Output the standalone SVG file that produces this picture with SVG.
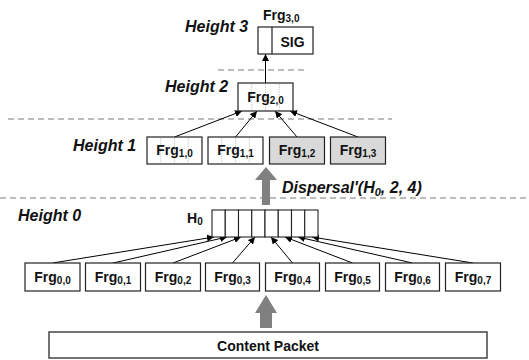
<svg xmlns="http://www.w3.org/2000/svg" width="529" height="360" viewBox="0 0 529 360">
  <defs>
    <marker id="ah" viewBox="0 0 10 10" refX="10" refY="5" markerWidth="7" markerHeight="7" markerUnits="userSpaceOnUse" orient="auto">
      <path d="M0,0 L10,5 L0,10 z" fill="#000"/>
    </marker>
    <style>
      .box { fill: #fff; stroke: #222; stroke-width: 1.2; }
      .shade { fill: #d9d9d9; stroke: #222; stroke-width: 1.2; }
      .cell { fill: #fff; stroke: #222; stroke-width: 1.1; }
      .div { stroke: #bbb; stroke-width: 0.8; stroke-dasharray: 1.5 1; }
      .sep { stroke: #a6a6a6; stroke-width: 1.5; stroke-dasharray: 6 4; fill: none; }
      .edge { stroke: #000; stroke-width: 1; fill: none; marker-end: url(#ah); }
      .lbl { font-family: "Liberation Sans", Arial, sans-serif; font-weight: bold; font-size: 14px; fill: #111; }
      .sub { font-size: 10px; }
      .lvl { font-family: "Liberation Sans", Arial, sans-serif; font-weight: bold; font-style: italic; font-size: 16px; fill: #111; }
      .big { fill: #808080; }
    </style>
  </defs>

  <!-- level separators -->
  <g id="separators">
    <line class="sep" x1="218" y1="70" x2="306" y2="70"/>
    <line class="sep" x1="8" y1="119" x2="392" y2="119"/>
    <line class="sep" x1="0" y1="198" x2="529" y2="198"/>
  </g>

  <!-- level labels -->
  <g id="levels">
    <text class="lvl" x="185" y="32">Height 3</text>
    <text class="lvl" x="165" y="92">Height 2</text>
    <text class="lvl" x="73" y="151">Height 1</text>
    <text class="lvl" x="18" y="221">Height 0</text>
  </g>

  <!-- connectors -->
  <g id="connectors">
    <line class="edge" x1="265.5" y1="83" x2="265.5" y2="54"/>
    <line class="edge" x1="174.5" y1="137" x2="242" y2="111"/>
    <line class="edge" x1="235.5" y1="137" x2="257" y2="111"/>
    <line class="edge" x1="297" y1="137" x2="275" y2="111"/>
    <line class="edge" x1="358" y1="137" x2="290" y2="111"/>

    <line class="edge" x1="52.5" y1="263" x2="214" y2="237"/>
    <line class="edge" x1="113" y1="263" x2="227" y2="237"/>
    <line class="edge" x1="173" y1="263" x2="241" y2="237"/>
    <line class="edge" x1="232.5" y1="263" x2="255" y2="237"/>
    <line class="edge" x1="292.5" y1="263" x2="271" y2="237"/>
    <line class="edge" x1="352.5" y1="263" x2="285" y2="237"/>
    <line class="edge" x1="412.5" y1="263" x2="298" y2="237"/>
    <line class="edge" x1="473" y1="263" x2="312" y2="237"/>

    <!-- thick block arrows -->
    <path class="big" d="M262,205 L270,205 L270,180 L277,180 L266,167 L255,180 L262,180 z"/>
    <path class="big" d="M260,328 L272,328 L272,313 L277,313 L266,295 L255,313 L260,313 z"/>
  </g>

  <!-- Height 3 -->
  <g id="frg30">
    <rect class="box" x="258" y="27" width="55" height="27"/>
    <line x1="272" y1="27" x2="272" y2="54" stroke="#222" stroke-width="1.2"/>
    <text class="lbl" x="292.5" y="47" text-anchor="middle" font-size="16">SIG</text>
    <text class="lbl" x="263" y="20">Frg<tspan class="sub" dy="2">3,0</tspan></text>
  </g>

  <!-- Height 2 -->
  <g id="frg20">
    <rect class="box" x="238" y="83" width="55" height="28"/>
    <line class="div" x1="251.75" y1="84" x2="251.75" y2="110"/>
    <line class="div" x1="265.5" y1="84" x2="265.5" y2="110"/>
    <line class="div" x1="279.25" y1="84" x2="279.25" y2="110"/>
    <text class="lbl" x="265.5" y="102" text-anchor="middle">Frg<tspan class="sub" dy="2">2,0</tspan></text>
  </g>

  <!-- Height 1 -->
  <g id="frg10">
    <rect class="box" x="147" y="137" width="55" height="27"/>
    <line class="div" x1="160.75" y1="138" x2="160.75" y2="163"/>
    <line class="div" x1="174.5" y1="138" x2="174.5" y2="163"/>
    <line class="div" x1="188.25" y1="138" x2="188.25" y2="163"/>
    <text class="lbl" x="174.5" y="155" text-anchor="middle">Frg<tspan class="sub" dy="2">1,0</tspan></text>
  </g>
  <g id="frg11">
    <rect class="box" x="208" y="137" width="55" height="27"/>
    <line class="div" x1="221.75" y1="138" x2="221.75" y2="163"/>
    <line class="div" x1="235.5" y1="138" x2="235.5" y2="163"/>
    <line class="div" x1="249.25" y1="138" x2="249.25" y2="163"/>
    <text class="lbl" x="235.5" y="155" text-anchor="middle">Frg<tspan class="sub" dy="2">1,1</tspan></text>
  </g>
  <g id="frg12">
    <rect class="shade" x="269.5" y="137" width="55" height="27"/>
    <text class="lbl" x="297" y="155" text-anchor="middle">Frg<tspan class="sub" dy="2">1,2</tspan></text>
  </g>
  <g id="frg13">
    <rect class="shade" x="330.5" y="137" width="55" height="27"/>
    <text class="lbl" x="358" y="155" text-anchor="middle">Frg<tspan class="sub" dy="2">1,3</tspan></text>
  </g>

  <text class="lvl" x="282" y="193">Dispersal'(H<tspan font-size="11" dy="3">0</tspan><tspan dy="-3">, 2, 4)</tspan></text>

  <!-- Height 0 hash array -->
  <g id="h0">
    <text class="lbl" x="187" y="223">H<tspan class="sub" dy="2">0</tspan></text>
    <rect class="cell" x="212" y="210" width="13.25" height="27"/>
    <rect class="cell" x="225.25" y="210" width="13.25" height="27"/>
    <rect class="cell" x="238.5" y="210" width="13.25" height="27"/>
    <rect class="cell" x="251.75" y="210" width="13.25" height="27"/>
    <rect class="cell" x="265" y="210" width="13.25" height="27"/>
    <rect class="cell" x="278.25" y="210" width="13.25" height="27"/>
    <rect class="cell" x="291.5" y="210" width="13.25" height="27"/>
    <rect class="cell" x="304.75" y="210" width="13.25" height="27"/>
  </g>

  <!-- Height 0 fragments -->
  <g id="frg00"><rect class="box" x="25" y="263" width="55" height="28"/><text class="lbl" x="52.5" y="282" text-anchor="middle">Frg<tspan class="sub" dy="2">0,0</tspan></text></g>
  <g id="frg01"><rect class="box" x="85.5" y="263" width="55" height="28"/><text class="lbl" x="113" y="282" text-anchor="middle">Frg<tspan class="sub" dy="2">0,1</tspan></text></g>
  <g id="frg02"><rect class="box" x="145.5" y="263" width="55" height="28"/><text class="lbl" x="173" y="282" text-anchor="middle">Frg<tspan class="sub" dy="2">0,2</tspan></text></g>
  <g id="frg03"><rect class="box" x="205.5" y="263" width="54" height="28"/><text class="lbl" x="232.5" y="282" text-anchor="middle">Frg<tspan class="sub" dy="2">0,3</tspan></text></g>
  <g id="frg04"><rect class="box" x="265.5" y="263" width="54" height="28"/><text class="lbl" x="292.5" y="282" text-anchor="middle">Frg<tspan class="sub" dy="2">0,4</tspan></text></g>
  <g id="frg05"><rect class="box" x="325.5" y="263" width="54" height="28"/><text class="lbl" x="352.5" y="282" text-anchor="middle">Frg<tspan class="sub" dy="2">0,5</tspan></text></g>
  <g id="frg06"><rect class="box" x="385.5" y="263" width="54" height="28"/><text class="lbl" x="412.5" y="282" text-anchor="middle">Frg<tspan class="sub" dy="2">0,6</tspan></text></g>
  <g id="frg07"><rect class="box" x="445.5" y="263" width="55" height="28"/><text class="lbl" x="473" y="282" text-anchor="middle">Frg<tspan class="sub" dy="2">0,7</tspan></text></g>

  <!-- source packet -->
  <g id="content">
    <rect x="49" y="332" width="438" height="26" fill="#fff" stroke="#444" stroke-width="1.5"/>
    <text class="lbl" x="268" y="351" text-anchor="middle" font-size="16">Content Packet</text>
  </g>
</svg>
